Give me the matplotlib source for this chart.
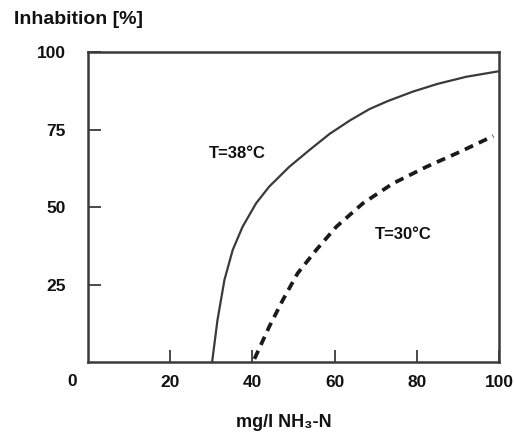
import matplotlib
matplotlib.use('Agg')
import matplotlib.pyplot as plt
from matplotlib import rcParams

rcParams['font.family'] = ['Liberation Sans', 'DejaVu Sans']
rcParams['font.weight'] = 'bold'

# curve: T = 38 C (solid)
x_38 = [30.2, 31.5, 33.2, 35.2, 37.6, 40.9, 44.1, 49.0, 53.9, 58.8, 63.7,
        68.5, 73.0, 79.0, 85.0, 92.0, 100.0]
y_38 = [0.0, 13.5, 26.5, 36.1, 43.6, 51.2, 56.6, 63.0, 68.4, 73.6, 77.9,
        81.6, 84.2, 87.2, 89.7, 92.0, 93.8]

# T = 30 C (dashed)
x_30 = [40.5, 44.1, 47.4, 51.0, 55.5, 60.4, 66.9, 74.2, 82.4, 90.5, 98.6]
y_30 = [1.0, 11.4, 20.0, 28.6, 36.1, 43.6, 51.2, 57.6, 63.0, 67.8, 72.9]

x_ticks = [20, 40, 60, 80, 100]
y_ticks = [25, 50, 75, 100]

line_color = '#3a3a3a'
text_color = '#111111'

fig = plt.figure(figsize=(5.14, 4.36), dpi=100)
ax = fig.add_axes([88 / 514, 74 / 436, 411 / 514, 310 / 436])

ax.plot(x_38, y_38, color=line_color, lw=1.6, solid_capstyle='butt',
        solid_joinstyle='round')
ax.plot(x_30, y_30, color='#1a1a1a', lw=2.7, linestyle=(0, (2.4, 1.7)),
        dash_capstyle='butt')

ax.set_xlim(0, 100)
ax.set_ylim(0, 100)
ax.set_xticks(x_ticks)
ax.set_yticks(y_ticks)
ax.tick_params(axis='x', direction='in', length=9, width=1.3, colors=line_color,
               labelcolor=text_color, labelsize=12.5, pad=9)
ax.tick_params(axis='y', direction='in', length=9, width=1.3, colors=line_color,
               labelcolor=text_color, labelsize=12.5, pad=16)
for lbl in ax.get_xticklabels() + ax.get_yticklabels():
    lbl.set_fontweight('bold')
for side in ax.spines.values():
    side.set_linewidth(1.8)
    side.set_color(line_color)

ax.text(36.3, 67.4, 'T=38°C', ha='center', va='center', fontsize=12,
        fontweight='bold', color=text_color)
ax.text(76.8, 41.0, 'T=30°C', ha='center', va='center', fontsize=12,
        fontweight='bold', color=text_color)

# shared origin label and axis titles
fig.text(72 / 514, 1 - 381 / 436, '0', ha='center', va='center', fontsize=12.5,
         fontweight='bold', color=text_color)
fig.text(14 / 514, 1 - 19 / 436, 'Inhabition [%]', ha='left', va='center',
         fontsize=14, fontweight='bold', color=text_color)
fig.text(284 / 514, 1 - 422 / 436, 'mg/l NH₃-N', ha='center', va='center',
         fontsize=13, fontweight='bold', color=text_color)

fig.savefig('out.png', dpi=100)
